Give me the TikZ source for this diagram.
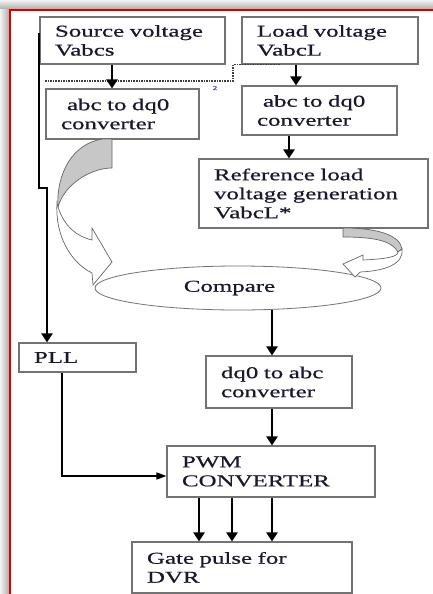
\documentclass[tikz,border=0pt]{standalone}
\usepackage{fontspec}
\setmainfont{Liberation Serif}[FakeStretch=1.5,FakeBold=0.6]
\usetikzlibrary{arrows.meta,%
                shapes.geometric,%
                positioning,%
                calc}
\definecolor{txt}{RGB}{25,25,45}
\definecolor{boxline}{RGB}{115,115,115}
\newcommand{\boxfont}{\fontsize{16.6}{19}\selectfont}
\tikzset{procbox/.style={
			  rectangle,
			  draw            = boxline,
			  line width      = 1.1pt,
			  inner xsep      = 15pt,
			  inner ysep      = 0pt,
			  align           = left,
			  text            = txt,
			  font            = \boxfont
			}}
\tikzset{cmpbox/.style={
			  ellipse,
			  draw            = boxline,
			  line width      = 0.8pt,
			  inner sep       = 0pt,
			  text            = txt,
			  font            = \boxfont
			}}
\tikzset{flow/.style={
			  -{Triangle[length=9pt,width=11pt]},
			  line width      = 2.5pt
			}}
\tikzset{thinflow/.style={
			  -{Triangle[length=10pt,width=7pt]},
			  line width      = 1.5pt
			}}
\tikzset{ribbon/.style={
			  draw            = black!60,
			  line width      = 0.7pt
			}}
\tikzset{dotline/.style={
			  densely dotted,
			  line width      = 1.6pt,
			  black!75
			}}

\begin{document}
\begin{tikzpicture}[x=1pt, y=-1pt]
    \useasboundingbox (0,0) rectangle (433,594);
    % page frame with shadow
    \fill [white] (0,0) rectangle (433,594);
    \shade [top color=black!5, bottom color=black!35] (0,0) rectangle (433,10);
    \shade [left color=black!5, right color=black!35] (0,10) rectangle (10,594);
    \draw [red!85!black, line width=1.6pt] (10,594) -- (10,10) -- (433,10);

    \node (src)  [procbox, minimum width=185pt, minimum height=47pt, text width=155pt] at (132.5,40.5) {Source voltage\\Vabcs};
    \node (load) [procbox, minimum width=176pt, minimum height=47pt, text width=146pt] at (330,40.5)   {Load voltage\\VabcL};
    \node (abcS) [procbox, minimum width=153pt, minimum height=50pt, text width=123pt] at (122.5,114)  {\hspace*{6pt}abc to dq0\\converter};
    \node (abcL) [procbox, minimum width=155pt, minimum height=49pt, text width=125pt] at (319.5,110.5) {\hspace*{6pt}abc to dq0\\converter};
    \node (ref)  [procbox, minimum width=229pt, minimum height=69pt, text width=199pt] at (313.5,193.5) {Reference load\\voltage generation\\VabcL*};
    \node (cmp)  [cmpbox, minimum width=286pt, minimum height=44pt]                   at (238,288)     {Compare\hspace*{17pt}};
    \node (pll)  [procbox, minimum width=117pt, minimum height=29pt, text width=87pt]  at (77.5,357.5)  {PLL};
    \node (dq0)  [procbox, minimum width=146pt, minimum height=52pt, text width=116pt] at (279,382)     {dq0 to abc\\converter};
    \node (pwm)  [procbox, minimum width=208pt, minimum height=51pt, text width=178pt] at (271,471.5)   {PWM\\CONVERTER};
    \node (gate) [procbox, minimum width=220pt, minimum height=51pt, text width=190pt] at (242,567.5)   {Gate pulse for\\DVR};
    \node (mark) [font=\fontsize{6}{6}\selectfont, text=blue!45!gray] at (215,88) {2};

    \coordinate (dotA) at (45,81);
    \coordinate (dotB) at (280,64.5);
    \draw [dotline] (dotA) -- ++(188,0) |- (dotB);

    \draw [flow] ([xshift=-20.5pt]src.south)  to ([xshift=-10.5pt]abcS.north);
    \draw [flow] ([xshift=-34pt]load.south)   to ([xshift=-23.5pt]abcL.north);
    \draw [flow] ([xshift=-30.5pt]abcL.south) to ([xshift=-24.5pt]ref.north);
    \draw [flow] ([xshift=34pt]cmp.south)     to ([xshift=-7pt]dq0.north);
    \draw [flow] ([xshift=-7pt]dq0.south)     to ([xshift=1pt]pwm.north);
    \foreach \dx in {-72,-39,1}
      \draw [flow] ([xshift=\dx pt]pwm.south) to ([xshift=\dx pt]pwm.south |- gate.north);
%
    \draw [flow, line width=2pt] ([yshift=7pt]src.west) -- ++(0,154.5) -| ([xshift=-30.5pt]pll.north);
    \draw [thinflow] ([xshift=-15.5pt]pll.south) |- ([yshift=-4.5pt]pwm.west);

    % curved block arrows into compare
    \filldraw [ribbon, fill=black!22] (103,139) -- (112,139) -- (112,168)
        .. controls (90,168) and (64,185) .. (58,207)
        .. controls (56,175) and (72,143) .. (103,139) -- cycle;
    \filldraw [ribbon, fill=white] (57,203)
        .. controls (55,235) and (70,262) .. (92,273) -- (93,285) -- (112,262) -- (92,228) -- (92,240)
        .. controls (75,236) and (62,224) .. (57,203) -- cycle;
    \filldraw [ribbon, fill=black!22] (343,228)
        .. controls (380,228) and (400,236) .. (402,249) -- (398,252)
        .. controls (392,241) and (375,237) .. (343,237) -- cycle;
    \filldraw [ribbon, fill=white] (402,249)
        .. controls (404,264) and (385,271) .. (360,272) -- (355,277) -- (343,264) -- (363,255) -- (363,260)
        .. controls (385,259) and (398,257) .. (398,252) -- cycle;
\end{tikzpicture}
\end{document}
